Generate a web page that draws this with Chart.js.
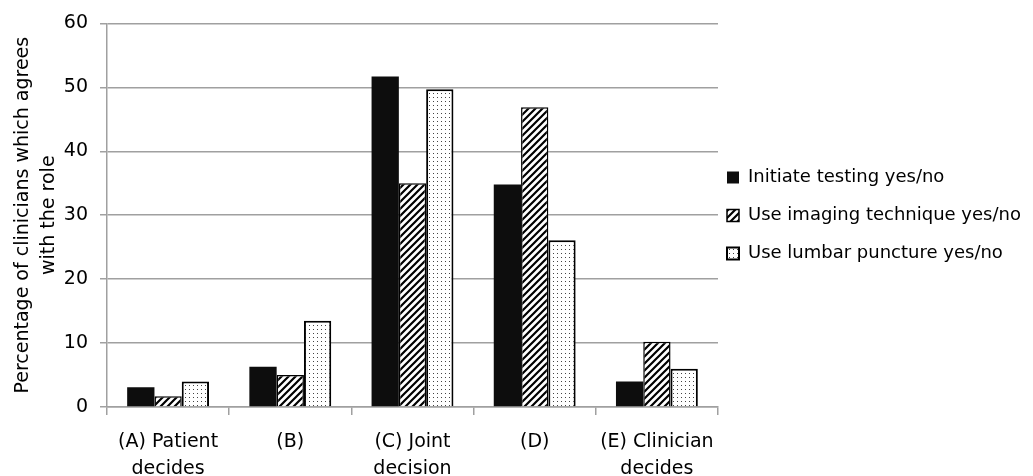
<!DOCTYPE html>
<html lang="en">

<head>
    <meta charset="UTF-8">
    <title>Clinician roles</title>
    <script src="https://cdn.jsdelivr.net/npm/chart.js"></script>
    <style>
        body { margin: 0; background: #fff; }
    </style>
</head>

<body>
    <canvas id="roleChart" width="1033" height="476"></canvas>

    <script>
        // categories on the x axis (two-line labels)
        var categories = [
            ['(A) Patient', 'decides'],
            '(B)',
            ['(C) Joint', 'decision'],
            '(D)',
            ['(E) Clinician', 'decides']
        ];

        // values (percent)
        var initiateTesting = [3.1, 6.3, 51.7, 34.8, 4.0];
        var imagingTechnique = [1.7, 5.0, 35.0, 46.9, 10.2];
        var lumbarPuncture = [4.0, 13.5, 49.7, 26.1, 6.0];

        var seriesNames = ['Initiate testing yes/no', 'Use imaging technique yes/no', 'Use lumbar puncture yes/no'];
        var yTicks = [0, 10, 20, 30, 40, 50, 60];

        var fontFamily = '"DejaVu Sans", sans-serif';

        // diagonal hatch fill
        function makeHatch() {
            var c = document.createElement('canvas');
            c.width = 7; c.height = 7;
            var g = c.getContext('2d');
            g.fillStyle = '#fff';
            g.fillRect(0, 0, 7, 7);
            g.strokeStyle = '#000';
            g.lineWidth = 2.2;
            g.beginPath();
            g.moveTo(-1, 8); g.lineTo(8, -1);
            g.moveTo(-4.5, 4.5); g.lineTo(4.5, -4.5);
            g.moveTo(2.5, 11.5); g.lineTo(11.5, 2.5);
            g.stroke();
            return g.createPattern(c, 'repeat');
        }

        // small dots fill
        function makeDots() {
            var c = document.createElement('canvas');
            c.width = 8; c.height = 8;
            var g = c.getContext('2d');
            g.fillStyle = '#fff';
            g.fillRect(0, 0, 8, 8);
            g.fillStyle = '#444';
            g.fillRect(1, 1, 1, 1);
            g.fillRect(5, 5, 1, 1);
            g.fillRect(5, 1, 1, 1);
            g.fillRect(1, 5, 1, 1);
            return g.createPattern(c, 'repeat');
        }

        // the layout caps a side legend at a quarter of the width; let it be wider,
        // then pull it closer to the plot and centre it on the plot area
        var wideLegend = {
            id: 'wideLegend',
            afterInit: function (chart) {
                var legend = chart.legend;
                var update = legend.update;
                legend.update = function (maxWidth, maxHeight, margins) {
                    return update.call(this, 315, maxHeight, margins);
                };
            },
            afterLayout: function (chart) {
                var legend = chart.legend;
                legend.left -= 11;
                legend.right -= 11;
                legend.top -= 34;
                legend.bottom -= 34;
            }
        };

        var ctx = document.getElementById('roleChart').getContext('2d');

        var myChart = new Chart(ctx, {
            type: 'bar',
            data: {
                labels: categories,
                datasets: [{
                    label: seriesNames[0],
                    data: initiateTesting,
                    backgroundColor: '#0d0d0d',
                    borderColor: '#0d0d0d',
                    borderWidth: 0
                }, {
                    label: seriesNames[1],
                    data: imagingTechnique,
                    backgroundColor: makeHatch(),
                    borderColor: '#000',
                    borderWidth: 1.5
                }, {
                    label: seriesNames[2],
                    data: lumbarPuncture,
                    backgroundColor: makeDots(),
                    borderColor: '#000',
                    borderWidth: 2
                }]
            },
            plugins: [wideLegend],
            options: {
                responsive: false,
                animation: false,
                layout: {
                    padding: { top: 23, right: 0, left: 0, bottom: 0 }
                },
                datasets: {
                    bar: {
                        categoryPercentage: 0.67,
                        barPercentage: 1.0
                    }
                },
                plugins: {
                    tooltip: { enabled: false },
                    legend: {
                        position: 'right',
                        align: 'center',
                        labels: {
                            boxWidth: 12,
                            boxHeight: 12,
                            padding: 20,
                            color: '#000',
                            font: { family: fontFamily, size: 18 }
                        }
                    }
                },
                scales: {
                    x: {
                        offset: true,
                        afterFit: function (scale) { scale.height = 69; },
                        grid: {
                            offset: true,
                            drawOnChartArea: false,
                            color: '#a0a0a0',
                            lineWidth: 1.5,
                            tickLength: 8
                        },
                        border: { color: '#a0a0a0', width: 1.5 },
                        ticks: {
                            color: '#000',
                            padding: 14,
                            maxRotation: 0,
                            font: { family: fontFamily, size: 19, lineHeight: 1.42 }
                        }
                    },
                    y: {
                        min: 0,
                        max: 60,
                        afterFit: function (scale) { scale.width = 107; },
                        afterBuildTicks: function (axis) {
                            axis.ticks = yTicks.map(function (v) { return { value: v }; });
                        },
                        grid: {
                            color: '#a0a0a0',
                            lineWidth: 1.5,
                            tickLength: 7
                        },
                        border: { color: '#a0a0a0', width: 1.5 },
                        ticks: {
                            color: '#000',
                            padding: 12,
                            font: { family: fontFamily, size: 19 }
                        },
                        title: {
                            display: true,
                            text: ['Percentage of clinicians which agrees', 'with the role'],
                            color: '#000',
                            padding: { top: 10, bottom: 0 },
                            font: { family: fontFamily, size: 19, lineHeight: 1.37 }
                        }
                    }
                }
            }
        });
    </script>

</body>

</html>
